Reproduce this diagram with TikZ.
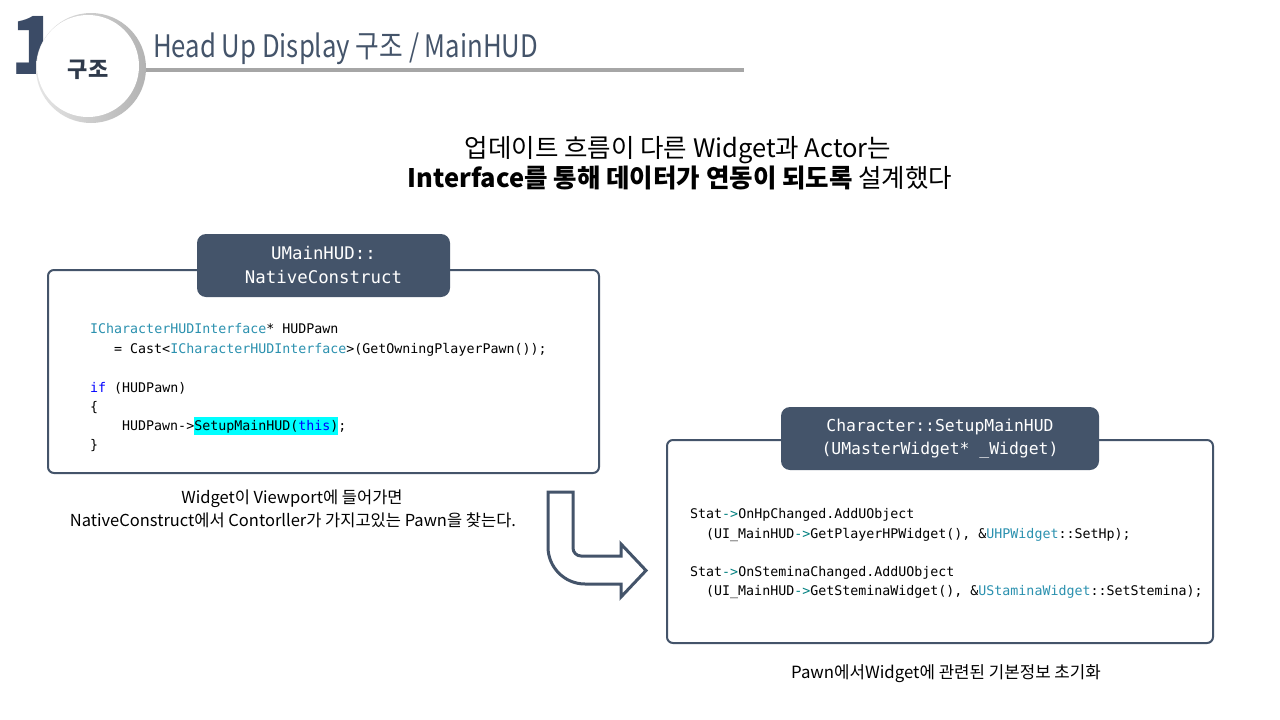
\documentclass[tikz,border=0pt]{standalone}
\usepackage{fontspec}
\setmainfont{Noto Sans CJK KR}
\setmonofont{DejaVu Sans Mono}
\newfontfamily\titlefont[FakeStretch=0.83]{Noto Sans CJK KR}
\definecolor{slate}{HTML}{44546A}
\definecolor{numc}{HTML}{3B4B66}
\definecolor{circtext}{HTML}{2F3A4B}
\definecolor{linegray}{HTML}{A6A6A6}
\definecolor{typec}{HTML}{2B91AF}
\definecolor{kwc}{HTML}{0000FF}
\definecolor{arrc}{HTML}{008080}
\definecolor{hl}{HTML}{00FFFF}
\newcommand\cty[1]{\textcolor{typec}{#1}}
\newcommand\ckw[1]{\textcolor{kwc}{#1}}
\newcommand\car[1]{\textcolor{arrc}{#1}}
\tikzset{
  codeline/.style={anchor=base west, inner sep=0pt, font=\ttfamily\fontsize{13.3}{18}\selectfont, text=black},
  codebox/.style={draw=slate, line width=2pt, rounded corners=6pt, fill=white, inner sep=0pt},
  headbox/.style={fill=slate, rounded corners=9pt, text=white, inner sep=0pt, align=center},
  caption/.style={font=\fontsize{16.5}{20}\selectfont, text=black, inner sep=0pt},
}
\begin{document}
\begin{tikzpicture}[x=1pt,y=-1pt]
\useasboundingbox (0,0) rectangle (1280,720);
\fill[white] (0,0) rectangle (1280,720);
% header
\node[anchor=base, inner sep=0pt, text=numc, font=\fontsize{80}{80}\selectfont\bfseries] (num) at (35,74) {1};
\draw[line width=4pt, linegray] (100,70) -- (744,70);
\shade[left color=gray!20, right color=gray!60] (91,68) circle (55);
\fill[white] (88,66) circle (51);
\node[text=circtext, font=\fontsize{22}{22}\selectfont\bfseries, inner sep=0pt] (circ) at (88,70) {구조};
\node[anchor=base west, inner sep=0pt, text=slate, font=\titlefont\fontsize{31}{31}\selectfont] (title) at (153,57) {Head Up Display 구조 / MainHUD};
% subtitle
\node[inner sep=0pt, font=\fontsize{25.5}{30}\selectfont] (sub1) at (678,150) {업데이트 흐름이 다른 Widget과 Actor는};
\node[inner sep=0pt, font=\fontsize{25.5}{30}\selectfont] (sub2) at (680,178) {\textbf{Interface를 통해 데이터가 연동이 되도록} 설계했다};
% left box
\node[codebox, minimum width=551pt, minimum height=203pt] (lbox) at (323.5,371.5) {};
\node[headbox, minimum width=253pt, minimum height=63pt, font=\ttfamily\fontsize{17.4}{24}\selectfont] (lhead) at (323.5,265.5) {UMainHUD::\\NativeConstruct};
\node[codeline] (c1) at (90,333) {\cty{ICharacterHUDInterface}* HUDPawn};
\node[codeline] (c2) at (114,353) {= Cast<\cty{ICharacterHUDInterface}>(GetOwningPlayerPawn());};
\node[codeline] (c3) at (90,392) {\ckw{if} (HUDPawn)};
\node[codeline] (c4) at (90,411) {\{};
\node[codeline] (c5) at (122,430) {HUDPawn->{\setlength{\fboxsep}{0pt}\colorbox{hl}{\strut SetupMainHUD(\ckw{this})}};};
\node[codeline] (c6) at (90,449) {\}};
% right box
\node[codebox, minimum width=546pt, minimum height=203pt] (rbox) at (940,541.5) {};
\node[headbox, minimum width=318pt, minimum height=63pt, font=\ttfamily\fontsize{16.4}{23}\selectfont] (rhead) at (940,438.5) {Character::SetupMainHUD\\(UMasterWidget* \_Widget)};
\node[codeline] (r1) at (690,518) {Stat\car{->}OnHpChanged.AddUObject};
\node[codeline] (r2) at (706,538) {(UI\_MainHUD\car{->}GetPlayerHPWidget(), \&\cty{UHPWidget}::SetHp);};
\node[codeline] (r3) at (690,576) {Stat\car{->}OnSteminaChanged.AddUObject};
\node[codeline] (r4) at (706,595) {(UI\_MainHUD\car{->}GetSteminaWidget(), \&\cty{UStaminaWidget}::SetStemina);};
% captions
\node[caption] (cap1) at (292,499) {Widget이 Viewport에 들어가면};
\node[caption] (cap2) at (293,520) {NativeConstruct에서 Contorller가 가지고있는 Pawn을 찾는다.};
\node[caption, font=\fontsize{16.8}{20}\selectfont] (cap3) at (946,674) {Pawn에서Widget에 관련된 기본정보 초기화};
% block arrow
\draw[slate, line width=3pt, fill=white, line join=miter]
  (548,492) -- (573,492) -- (573,548)
  .. controls (573,552.4) and (576.6,556) .. (581,556)
  -- (621,556) -- (621,544) -- (646,570.5) -- (621,597) -- (621,584) -- (585,584)
  .. controls (564.6,584) and (548,567.4) .. (548,547) -- cycle;
\end{tikzpicture}
\end{document}
